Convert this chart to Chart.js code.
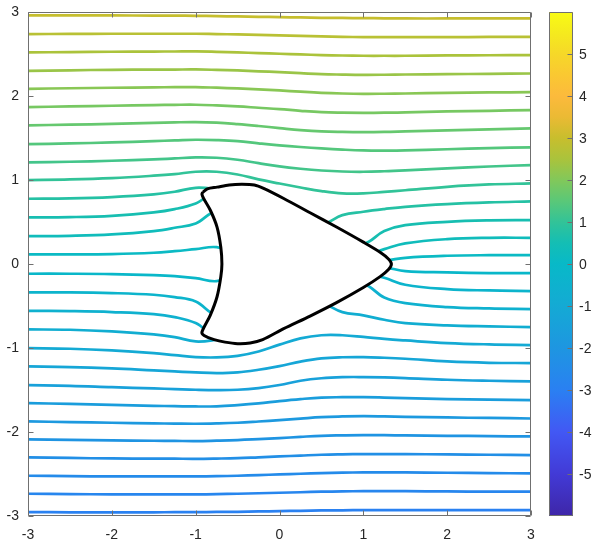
<!DOCTYPE html>
<html>
<head>
<meta charset="utf-8">
<script src="https://cdn.jsdelivr.net/npm/chart.js@4.4.1/dist/chart.umd.min.js"></script>
<style>
  html, body { margin: 0; padding: 0; background: #fff; }
</style>
</head>
<body>
<canvas id="flow" width="598" height="546"></canvas>
<script>
// sample positions along x shared by every streamline
const xs = [-3, -2.5, -2, -1.5, -1.25, -1, -0.75, -0.5, -0.25, 0, 0.25, 0.5, 0.75, 1, 1.25, 1.5, 2, 2.5, 3];

// streamlines above the body (top to bottom), y read at each xs
const upperLines = [
  [2.959, 2.959, 2.959, 2.957, 2.956, 2.955, 2.951, 2.947, 2.943, 2.939, 2.935, 2.931, 2.929, 2.927, 2.925, 2.923, 2.923, 2.923, 2.923],
  [2.737, 2.739, 2.741, 2.741, 2.741, 2.741, 2.737, 2.733, 2.727, 2.721, 2.715, 2.709, 2.704, 2.701, 2.701, 2.701, 2.701, 2.703, 2.705],
  [2.519, 2.523, 2.527, 2.529, 2.530, 2.531, 2.526, 2.519, 2.511, 2.503, 2.495, 2.487, 2.482, 2.479, 2.479, 2.479, 2.483, 2.485, 2.487],
  [2.300, 2.306, 2.312, 2.314, 2.315, 2.316, 2.311, 2.304, 2.294, 2.284, 2.272, 2.260, 2.255, 2.252, 2.253, 2.256, 2.260, 2.264, 2.268],
  [2.086, 2.092, 2.098, 2.103, 2.105, 2.106, 2.099, 2.090, 2.078, 2.066, 2.051, 2.038, 2.030, 2.026, 2.027, 2.030, 2.038, 2.042, 2.046],
  [1.868, 1.876, 1.884, 1.892, 1.895, 1.896, 1.888, 1.876, 1.860, 1.844, 1.824, 1.808, 1.802, 1.800, 1.801, 1.804, 1.816, 1.824, 1.832],
  [1.650, 1.659, 1.668, 1.680, 1.686, 1.689, 1.682, 1.665, 1.643, 1.618, 1.594, 1.578, 1.572, 1.570, 1.572, 1.578, 1.590, 1.602, 1.614],
  [1.427, 1.435, 1.447, 1.463, 1.471, 1.479, 1.475, 1.463, 1.437, 1.413, 1.393, 1.376, 1.362, 1.352, 1.350, 1.352, 1.366, 1.380, 1.388],
  [1.209, 1.217, 1.229, 1.245, 1.257, 1.269, 1.265, 1.241, 1.200, 1.162, 1.134, 1.113, 1.101, 1.098, 1.104, 1.114, 1.138, 1.161, 1.177],
  [0.999, 1.007, 1.023, 1.051, 1.070, 1.098, 1.098, 1.066, 1.007, 0.958, 0.911, 0.868, 0.840, 0.840, 0.858, 0.878, 0.919, 0.947, 0.959],
  [0.777, 0.781, 0.797, 0.829, 0.860, 0.907, 0.890, 0.850, 0.780, 0.700, 0.600, 0.480, 0.582, 0.622, 0.654, 0.681, 0.713, 0.733, 0.745],
  [0.554, 0.558, 0.574, 0.614, 0.653, 0.721, 0.850, 0.660, 0.560, 0.480, 0.420, 0.360, 0.300, 0.240, 0.392, 0.462, 0.502, 0.519, 0.522],
  [0.332, 0.336, 0.352, 0.392, 0.431, 0.483, 0.620, 0.450, 0.380, 0.320, 0.270, 0.220, 0.180, 0.100, 0.177, 0.245, 0.296, 0.312, 0.312],
  [0.114, 0.114, 0.118, 0.134, 0.153, 0.177, 0.200, 0.120, 0.090, 0.070, 0.060, 0.050, 0.050, 0.045, 0.040, 0.074, 0.098, 0.105, 0.105]
];

// streamlines below the body (just under y=0 to the bottom)
const lowerLines = [
  [-0.116, -0.116, -0.120, -0.132, -0.144, -0.168, -0.204, -0.120, -0.090, -0.070, -0.060, -0.050, -0.050, -0.045, -0.040, -0.085, -0.100, -0.108, -0.108],
  [-0.338, -0.338, -0.346, -0.366, -0.394, -0.445, -0.600, -0.450, -0.380, -0.320, -0.270, -0.220, -0.180, -0.100, -0.164, -0.247, -0.299, -0.315, -0.322],
  [-0.557, -0.561, -0.572, -0.596, -0.632, -0.703, -0.850, -0.660, -0.560, -0.480, -0.420, -0.360, -0.300, -0.240, -0.398, -0.465, -0.513, -0.529, -0.537],
  [-0.779, -0.783, -0.803, -0.838, -0.870, -0.922, -0.900, -0.850, -0.780, -0.700, -0.600, -0.480, -0.573, -0.612, -0.664, -0.704, -0.731, -0.743, -0.751],
  [-1.001, -1.009, -1.029, -1.061, -1.085, -1.108, -1.112, -1.093, -1.041, -0.960, -0.885, -0.848, -0.848, -0.868, -0.892, -0.910, -0.941, -0.957, -0.965],
  [-1.219, -1.227, -1.243, -1.267, -1.279, -1.291, -1.299, -1.291, -1.259, -1.215, -1.162, -1.124, -1.110, -1.108, -1.116, -1.128, -1.160, -1.176, -1.179],
  [-1.442, -1.450, -1.466, -1.481, -1.489, -1.497, -1.501, -1.497, -1.477, -1.440, -1.390, -1.360, -1.347, -1.346, -1.350, -1.358, -1.378, -1.390, -1.398],
  [-1.656, -1.666, -1.676, -1.688, -1.692, -1.696, -1.694, -1.680, -1.660, -1.632, -1.608, -1.590, -1.586, -1.585, -1.590, -1.597, -1.608, -1.614, -1.620],
  [-1.874, -1.882, -1.890, -1.897, -1.900, -1.902, -1.898, -1.890, -1.875, -1.858, -1.840, -1.823, -1.815, -1.811, -1.814, -1.819, -1.827, -1.833, -1.839],
  [-2.088, -2.094, -2.100, -2.104, -2.106, -2.108, -2.103, -2.096, -2.085, -2.073, -2.058, -2.045, -2.040, -2.037, -2.038, -2.041, -2.045, -2.049, -2.053],
  [-2.303, -2.309, -2.315, -2.317, -2.318, -2.319, -2.316, -2.311, -2.301, -2.291, -2.281, -2.271, -2.266, -2.263, -2.263, -2.263, -2.267, -2.271, -2.275],
  [-2.521, -2.525, -2.529, -2.529, -2.529, -2.529, -2.526, -2.521, -2.513, -2.505, -2.497, -2.489, -2.484, -2.481, -2.481, -2.481, -2.485, -2.489, -2.493],
  [-2.735, -2.739, -2.743, -2.743, -2.743, -2.743, -2.740, -2.735, -2.729, -2.723, -2.717, -2.711, -2.707, -2.704, -2.704, -2.704, -2.708, -2.710, -2.711],
  [-2.954, -2.956, -2.958, -2.956, -2.955, -2.954, -2.952, -2.950, -2.946, -2.942, -2.938, -2.934, -2.932, -2.930, -2.930, -2.930, -2.930, -2.930, -2.930]
];

// stream function value of each line (sets its colour)
const upperLevels = [2.96, 2.74, 2.52, 2.30, 2.09, 1.87, 1.65, 1.43, 1.21, 1.00, 0.78, 0.55, 0.33, 0.11];
const lowerLevels = [-0.11, -0.33, -0.55, -0.78, -1.00, -1.21, -1.43, -1.65, -1.87, -2.09, -2.30, -2.52, -2.74, -2.96];

// outline of the body, starting at the upper front corner
const bodyX = [-0.915, -0.86, -0.745, -0.6, -0.45, -0.3, -0.19, 0.05, 0.365, 0.68, 1.0, 1.2, 1.3, 1.335,
               1.3, 1.2, 1.0, 0.68, 0.365, 0.05, -0.2, -0.35, -0.5, -0.65, -0.78, -0.9, -0.925,
               -0.825, -0.745, -0.7, -0.687, -0.7, -0.745, -0.825, -0.905, -0.925, -0.915];
const bodyY = [0.855, 0.895, 0.915, 0.94, 0.948, 0.94, 0.90, 0.78, 0.61, 0.44, 0.26, 0.14, 0.06, 0.0,
               -0.065, -0.15, -0.28, -0.46, -0.62, -0.77, -0.9, -0.94, -0.948, -0.93, -0.9, -0.85, -0.81,
               -0.608, -0.39, -0.152, 0.0, 0.2, 0.44, 0.64, 0.78, 0.83, 0.855];

const xTicks = [-3, -2, -1, 0, 1, 2, 3];
const yTicks = [-3, -2, -1, 0, 1, 2, 3];
const cbTicks = [-5, -4, -3, -2, -1, 0, 1, 2, 3, 4, 5];
const cbMin = -6, cbMax = 6;

// parula-like colour map stops: [t, r, g, b]
const cmap = [
  [0.000, 62, 38, 168], [0.083, 66, 58, 214], [0.167, 66, 88, 244], [0.250, 42, 128, 242],
  [0.333, 30, 150, 225], [0.417, 20, 170, 212], [0.500, 8, 185, 200], [0.542, 20, 190, 180],
  [0.583, 50, 195, 152], [0.625, 90, 200, 120], [0.667, 130, 200, 90], [0.708, 170, 195, 60],
  [0.750, 200, 190, 45], [0.792, 235, 186, 52], [0.833, 252, 186, 60], [0.875, 250, 200, 50],
  [0.917, 246, 216, 40], [0.958, 245, 234, 30], [1.000, 249, 251, 20]
];

function colorAt(t) {
  t = Math.min(1, Math.max(0, t));
  for (let i = 1; i < cmap.length; i++) {
    if (t <= cmap[i][0]) {
      const a = cmap[i - 1], b = cmap[i];
      const f = (t - a[0]) / (b[0] - a[0]);
      const c = [1, 2, 3].map(k => Math.round(a[k] + (b[k] - a[k]) * f));
      return 'rgb(' + c.join(',') + ')';
    }
  }
  return 'rgb(249,251,20)';
}

function levelColor(v) {
  return colorAt((v - cbMin) / (cbMax - cbMin));
}

const font = { family: '"Liberation Sans", Arial, Helvetica, sans-serif', size: 14 };
const textColor = '#262626';
const axisColor = '#707070';

// body drawn first in the list so it ends on top of the lines
const datasets = [{
  label: 'body',
  data: bodyX.map((x, i) => ({ x, y: bodyY[i] })),
  borderColor: '#000',
  borderWidth: 3,
  backgroundColor: '#fff',
  fill: 'shape',
  tension: 0.3,
  pointRadius: 0,
  order: 0
}];

upperLines.concat(lowerLines).forEach((ys, i) => {
  const lvl = upperLevels.concat(lowerLevels)[i];
  datasets.push({
    label: 'psi ' + lvl,
    data: xs.map((x, j) => ({ x, y: ys[j] })),
    borderColor: levelColor(lvl),
    borderWidth: 2.7,
    pointRadius: 0,
    fill: false,
    tension: 0.4,
    order: 1
  });
});

// axes box with inward ticks on all sides, plus the colorbar
const frame = {
  id: 'frame',
  afterDatasetsDraw(chart) {
    const { ctx, chartArea: a, scales } = chart;
    const x = scales.x, y = scales.y, cb = scales.cb;
    ctx.save();
    ctx.strokeStyle = axisColor;
    ctx.lineWidth = 1;
    const L = Math.round(a.left) + 0.5, R = Math.round(a.right) - 0.5;
    const T = Math.round(a.top) + 0.5, B = Math.round(a.bottom) - 0.5;
    ctx.beginPath();
    ctx.rect(L, T, R - L, B - T);
    xTicks.forEach(v => {
      const p = Math.round(x.getPixelForValue(v)) + 0.5;
      ctx.moveTo(p, B); ctx.lineTo(p, B - 5);
      ctx.moveTo(p, T); ctx.lineTo(p, T + 5);
    });
    yTicks.forEach(v => {
      const p = Math.round(y.getPixelForValue(v)) + 0.5;
      ctx.moveTo(L, p); ctx.lineTo(L + 5, p);
      ctx.moveTo(R, p); ctx.lineTo(R - 5, p);
    });
    ctx.stroke();

    // colorbar
    const cx0 = 549, cx1 = 573;
    const top = cb.getPixelForValue(cbMax), bot = cb.getPixelForValue(cbMin);
    const grad = ctx.createLinearGradient(0, bot, 0, top);
    cmap.forEach(s => grad.addColorStop(s[0], 'rgb(' + s[1] + ',' + s[2] + ',' + s[3] + ')'));
    ctx.fillStyle = grad;
    ctx.fillRect(cx0, top, cx1 - cx0, bot - top);
    ctx.beginPath();
    ctx.rect(cx0 + 0.5, Math.round(top) + 0.5, cx1 - cx0 - 1, Math.round(bot - top) - 1);
    cbTicks.forEach(v => {
      const p = Math.round(cb.getPixelForValue(v)) + 0.5;
      ctx.moveTo(cx1 - 0.5, p); ctx.lineTo(cx1 - 5.5, p);
    });
    ctx.stroke();
    ctx.fillStyle = textColor;
    ctx.font = font.size + 'px ' + font.family;
    ctx.textAlign = 'left';
    ctx.textBaseline = 'middle';
    cbTicks.forEach(v => {
      ctx.fillText(String(v), 579, cb.getPixelForValue(v) + 1);
    });
    ctx.restore();
  }
};

new Chart(document.getElementById('flow'), {
  type: 'line',
  data: { datasets },
  options: {
    responsive: false,
    animation: false,
    devicePixelRatio: 1,
    layout: { padding: { top: 12, right: 67, left: 0, bottom: 0 } },
    scales: {
      x: {
        type: 'linear', min: -3, max: 3,
        afterBuildTicks: s => { s.ticks = xTicks.map(v => ({ value: v })); },
        afterFit: s => { s.height = 30; },
        ticks: { font, color: textColor, padding: 0, maxRotation: 0, autoSkip: false },
        grid: { display: false, drawTicks: true, tickLength: 11 },
        border: { display: false }
      },
      y: {
        type: 'linear', min: -3, max: 3,
        afterBuildTicks: s => { s.ticks = yTicks.map(v => ({ value: v })); },
        afterFit: s => { s.width = 28; },
        ticks: { font, color: textColor, padding: 0, autoSkip: false },
        grid: { display: false, drawTicks: true, tickLength: 9 },
        border: { display: false }
      },
      cb: { type: 'linear', display: false, position: 'right', min: cbMin, max: cbMax }
    },
    plugins: {
      legend: { display: false },
      tooltip: { enabled: false }
    }
  },
  plugins: [frame]
});
</script>
</body>
</html>
